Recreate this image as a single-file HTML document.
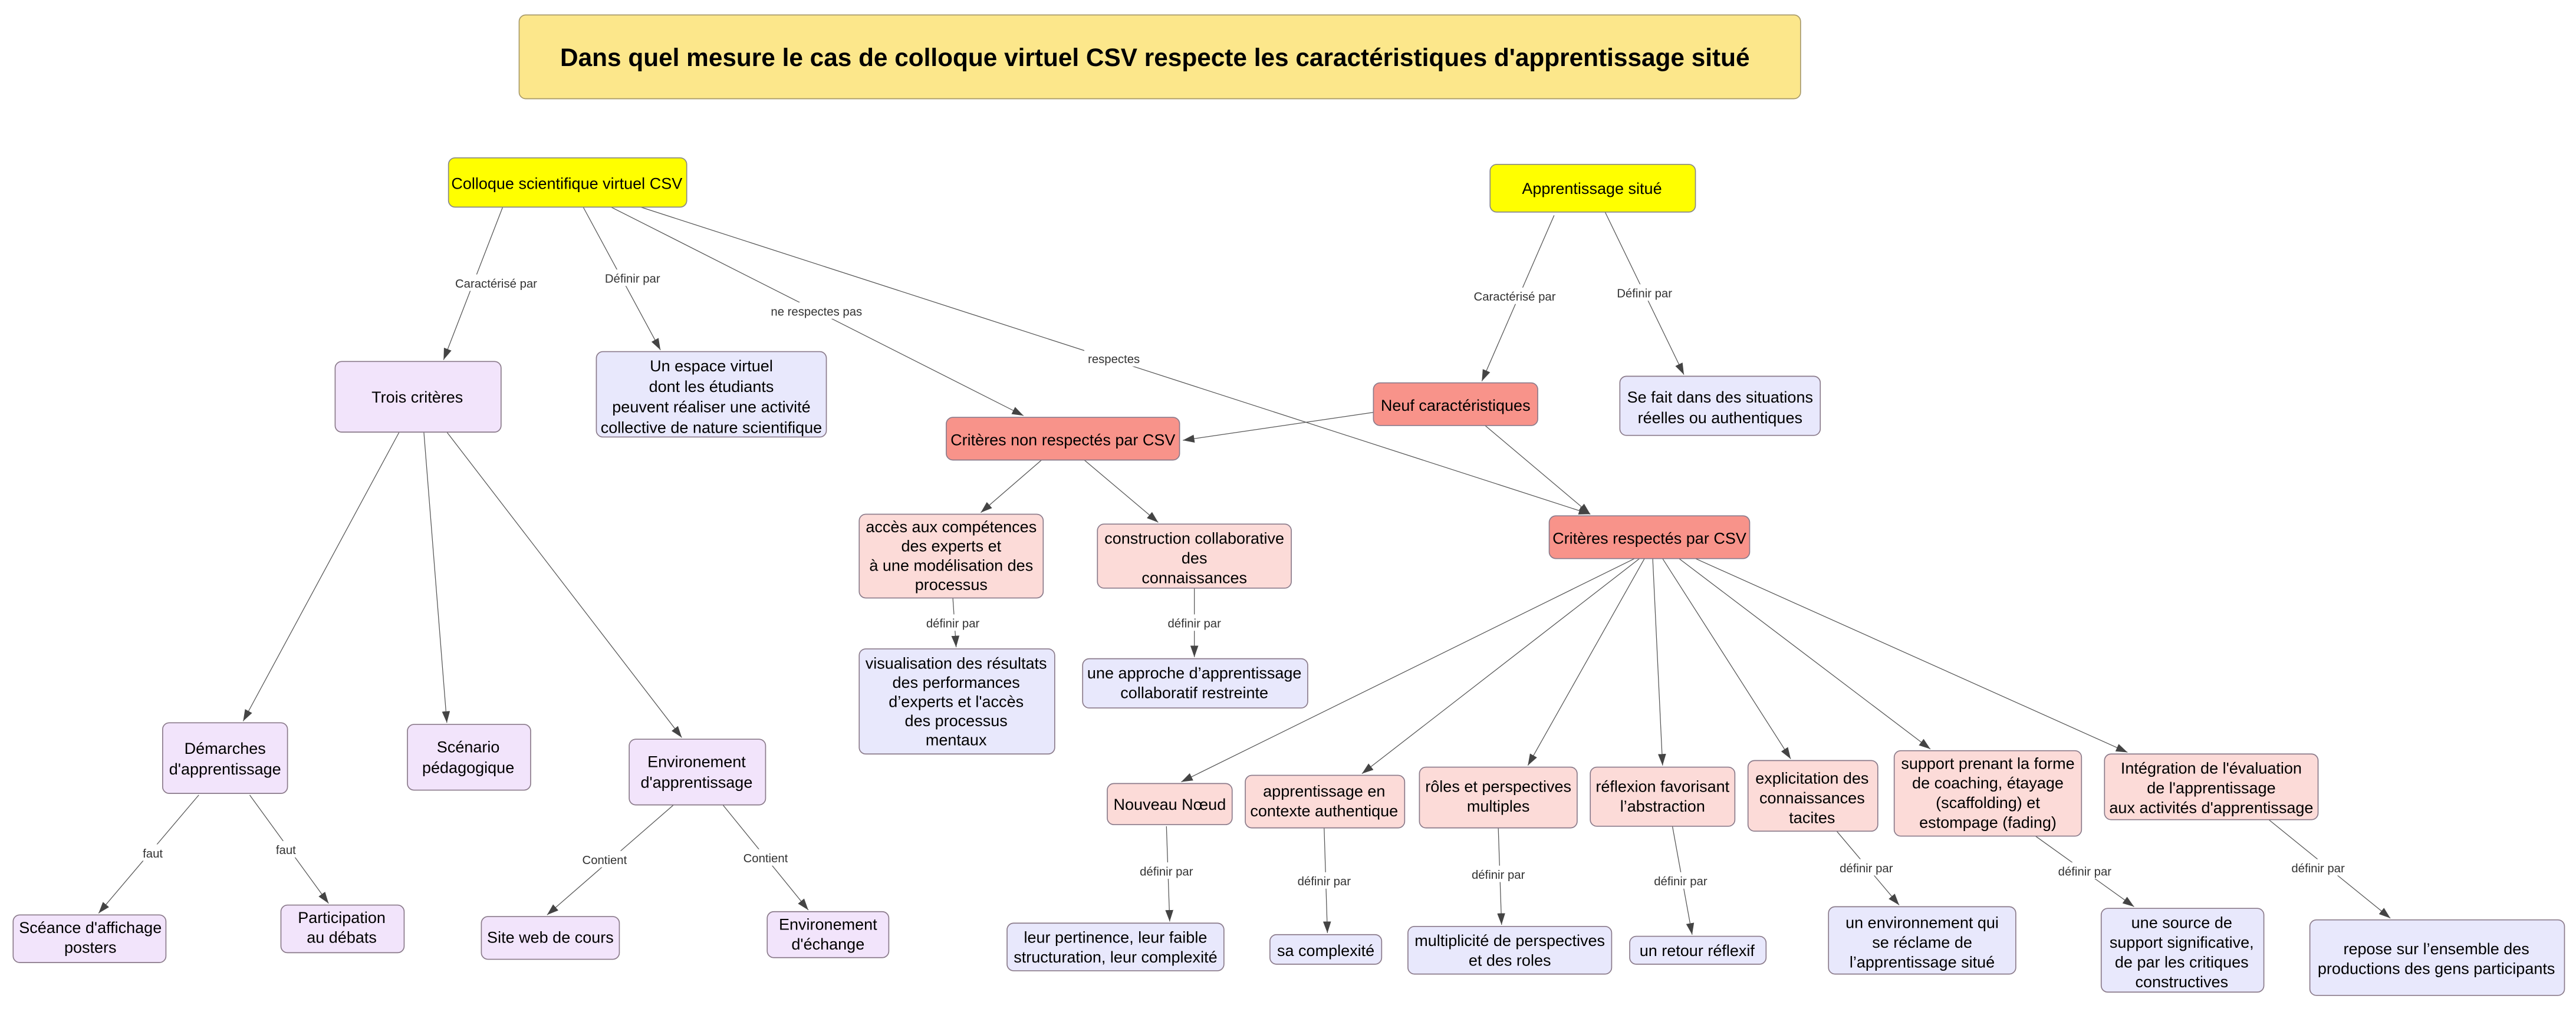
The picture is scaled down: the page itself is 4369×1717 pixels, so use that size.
<!DOCTYPE html>
<html><head><meta charset="utf-8"><style>html,body{margin:0;padding:0;background:#fff}svg{display:block}</style></head>
<body>
<svg xmlns="http://www.w3.org/2000/svg" width="4369" height="1717" viewBox="0 0 1568 616" font-family="'Liberation Sans', sans-serif">
<defs>
<marker id="a" viewBox="0 0 10 10" refX="10" refY="5" markerWidth="7" markerHeight="7" markerUnits="userSpaceOnUse" orient="auto"><path d="M0,1.5 L10,5 L0,8.5 z" fill="#444"/></marker>
</defs>
<rect width="1568" height="616" fill="#fff"/>
<g stroke="#555" stroke-width="0.45" fill="none" marker-end="url(#a)">
<line x1="306" y1="126" x2="270" y2="219"/>
<line x1="355" y1="126" x2="402" y2="213"/>
<line x1="372" y1="126" x2="623" y2="253"/>
<line x1="390" y1="126" x2="968" y2="313"/>
<line x1="946" y1="131" x2="902" y2="232"/>
<line x1="977" y1="129" x2="1025" y2="228"/>
<line x1="836" y1="251" x2="720" y2="268"/>
<line x1="904" y1="259" x2="968" y2="313"/>
<line x1="634" y1="280" x2="597" y2="312"/>
<line x1="660" y1="280" x2="705" y2="318"/>
<line x1="580" y1="364" x2="582" y2="394"/>
<line x1="727" y1="358" x2="727" y2="400"/>
<line x1="243" y1="263" x2="148" y2="439"/>
<line x1="258" y1="263" x2="272" y2="440"/>
<line x1="272" y1="263" x2="415" y2="449"/>
<line x1="121" y1="484" x2="60" y2="556"/>
<line x1="152" y1="484" x2="200" y2="550"/>
<line x1="410" y1="490" x2="333" y2="557"/>
<line x1="440" y1="490" x2="492" y2="554"/>
<line x1="995" y1="340" x2="719" y2="476"/>
<line x1="998" y1="340" x2="829" y2="471"/>
<line x1="1001" y1="340" x2="930" y2="466"/>
<line x1="1006" y1="340" x2="1012" y2="466"/>
<line x1="1012" y1="340" x2="1090" y2="462"/>
<line x1="1022" y1="340" x2="1175" y2="456"/>
<line x1="1032" y1="340" x2="1295" y2="458"/>
<line x1="710" y1="503" x2="712" y2="561"/>
<line x1="806" y1="504" x2="808" y2="568"/>
<line x1="912" y1="504" x2="914" y2="563"/>
<line x1="1018" y1="503" x2="1030" y2="569"/>
<line x1="1118" y1="506" x2="1156" y2="551"/>
<line x1="1239" y1="509" x2="1299" y2="552"/>
<line x1="1381" y1="499" x2="1455" y2="559"/>
</g>
<g font-size="7.3" fill="#333" text-anchor="middle">
<g fill="#fff" stroke="none">
<rect x="275" y="167" width="54" height="10"/><rect x="366" y="164" width="38" height="10"/>
<rect x="467" y="184" width="60" height="10"/><rect x="660" y="213" width="36" height="10"/>
<rect x="895" y="175" width="54" height="10"/><rect x="983" y="173" width="38" height="10"/>
<rect x="561" y="374" width="38" height="10"/><rect x="708" y="374" width="38" height="10"/>
<rect x="85" y="514" width="16" height="10"/><rect x="166" y="512" width="16" height="10"/>
<rect x="352" y="518" width="32" height="10"/><rect x="450" y="517" width="32" height="10"/>
<rect x="691" y="525" width="38" height="10"/><rect x="787" y="531" width="38" height="10"/>
<rect x="893" y="527" width="38" height="10"/><rect x="1004" y="531" width="38" height="10"/>
<rect x="1117" y="523" width="38" height="10"/><rect x="1250" y="525" width="38" height="10"/>
<rect x="1392" y="523" width="38" height="10"/>
</g>
<text x="302" y="175">Caractérisé par</text><text x="385" y="172">Définir par</text>
<text x="497" y="192">ne respectes pas</text><text x="678" y="221">respectes</text>
<text x="922" y="183">Caractérisé par</text><text x="1001" y="181">Définir par</text>
<text x="580" y="382">définir par</text><text x="727" y="382">définir par</text>
<text x="93" y="522">faut</text><text x="174" y="520">faut</text>
<text x="368" y="526">Contient</text><text x="466" y="525">Contient</text>
<text x="710" y="533">définir par</text><text x="806" y="539">définir par</text>
<text x="912" y="535">définir par</text><text x="1023" y="539">définir par</text>
<text x="1136" y="531">définir par</text><text x="1269" y="533">définir par</text>
<text x="1411" y="531">définir par</text>
</g>
<g stroke="#8a7a8a" stroke-width="0.6">
<rect x="316" y="9" width="780" height="51" rx="4" fill="#fce78b" stroke="#a89a6a"/>
<rect x="273" y="96" width="145" height="30" rx="4" fill="#ffff00" stroke="#888"/>
<rect x="907" y="100" width="125" height="29" rx="4" fill="#ffff00" stroke="#888"/>
<g fill="#f2e4fb">
<rect x="204" y="220" width="101" height="43" rx="4"/>
<rect x="99" y="440" width="76" height="43" rx="4"/>
<rect x="248" y="441" width="75" height="40" rx="4"/>
<rect x="383" y="450" width="83" height="40" rx="4"/>
<rect x="8" y="557" width="93" height="29" rx="4"/>
<rect x="171" y="551" width="75" height="29" rx="4"/>
<rect x="293" y="558" width="84" height="26" rx="4"/>
<rect x="467" y="555" width="74" height="28" rx="4"/>
</g>
<g fill="#e8e8fc">
<rect x="363" y="214" width="140" height="52" rx="4"/>
<rect x="986" y="229" width="122" height="36" rx="4"/>
<rect x="523" y="395" width="119" height="64" rx="4"/>
<rect x="659" y="401" width="137" height="30" rx="4"/>
<rect x="613" y="562" width="132" height="29" rx="4"/>
<rect x="773" y="569" width="68" height="18" rx="4"/>
<rect x="857" y="564" width="124" height="29" rx="4"/>
<rect x="992" y="570" width="83" height="17" rx="4"/>
<rect x="1113" y="552" width="114" height="41" rx="4"/>
<rect x="1279" y="553" width="99" height="51" rx="4"/>
<rect x="1406" y="560" width="155" height="46" rx="4"/>
</g>
<g fill="#f8938a">
<rect x="576" y="254" width="142" height="26" rx="4"/>
<rect x="836" y="233" width="100" height="26" rx="4"/>
<rect x="943" y="314" width="122" height="26" rx="4"/>
</g>
<g fill="#fcdbd8">
<rect x="523" y="313" width="112" height="51" rx="4"/>
<rect x="668" y="319" width="118" height="39" rx="4"/>
<rect x="674" y="477" width="76" height="25" rx="4"/>
<rect x="758" y="472" width="97" height="32" rx="4"/>
<rect x="864" y="467" width="96" height="37" rx="4"/>
<rect x="968" y="467" width="88" height="36" rx="4"/>
<rect x="1064" y="463" width="79" height="43" rx="4"/>
<rect x="1153" y="457" width="114" height="52" rx="4"/>
<rect x="1281" y="459" width="130" height="40" rx="4"/>
</g>
</g>
<text x="703" y="40" font-size="15.2" font-weight="bold" text-anchor="middle" fill="#000">Dans quel mesure le cas de colloque virtuel CSV respecte les caractéristiques d'apprentissage situé</text>
<g font-size="9.7" text-anchor="middle" fill="#000">
<text x="345" y="115">Colloque scientifique virtuel CSV</text>
<text x="969" y="118">Apprentissage situé</text>
<text x="254" y="245">Trois critères</text>
<text x="433" y="226"><tspan x="433">Un espace virtuel</tspan><tspan x="433" dy="12.5">dont les étudiants</tspan><tspan x="433" dy="12.5">peuvent réaliser une activité</tspan><tspan x="433" dy="12.5">collective de nature scientifique</tspan></text>
<text x="647" y="271">Critères non respectés par CSV</text>
<text x="886" y="250">Neuf caractéristiques</text>
<text x="1047" y="245"><tspan x="1047">Se fait dans des situations</tspan><tspan x="1047" dy="12.5">réelles ou authentiques</tspan></text>
<text x="1004" y="331">Critères respectés par CSV</text>
<text x="579" y="324"><tspan x="579">accès aux compétences</tspan><tspan x="579" dy="11.7">des experts et</tspan><tspan x="579" dy="11.7">à une modélisation des</tspan><tspan x="579" dy="11.7">processus</tspan></text>
<text x="727" y="331"><tspan x="727">construction collaborative</tspan><tspan x="727" dy="12">des</tspan><tspan x="727" dy="12">connaissances</tspan></text>
<text x="582" y="407"><tspan x="582">visualisation des résultats</tspan><tspan x="582" dy="11.7">des performances</tspan><tspan x="582" dy="11.7">d’experts et l'accès</tspan><tspan x="582" dy="11.7">des processus</tspan><tspan x="582" dy="11.7">mentaux</tspan></text>
<text x="727" y="413"><tspan x="727">une approche d’apprentissage</tspan><tspan x="727" dy="12">collaboratif  restreinte</tspan></text>
<text x="137" y="459"><tspan x="137">Démarches</tspan><tspan x="137" dy="12.5">d'apprentissage</tspan></text>
<text x="285" y="458"><tspan x="285">Scénario</tspan><tspan x="285" dy="12.5">pédagogique</tspan></text>
<text x="424" y="467"><tspan x="424">Environement</tspan><tspan x="424" dy="12.5">d'apprentissage</tspan></text>
<text x="55" y="568"><tspan x="55">Scéance d'affichage</tspan><tspan x="55" dy="12">posters</tspan></text>
<text x="208" y="562"><tspan x="208">Participation</tspan><tspan x="208" dy="12">au débats</tspan></text>
<text x="335" y="574">Site web de cours</text>
<text x="504" y="566"><tspan x="504">Environement</tspan><tspan x="504" dy="12">d'échange</tspan></text>
<text x="712" y="493">Nouveau Nœud</text>
<text x="806" y="485"><tspan x="806">apprentissage en</tspan><tspan x="806" dy="12">contexte authentique</tspan></text>
<text x="912" y="482"><tspan x="912">rôles et perspectives</tspan><tspan x="912" dy="12">multiples</tspan></text>
<text x="1012" y="482"><tspan x="1012">réflexion favorisant</tspan><tspan x="1012" dy="12">l’abstraction</tspan></text>
<text x="1103" y="477"><tspan x="1103">explicitation des</tspan><tspan x="1103" dy="12">connaissances</tspan><tspan x="1103" dy="12">tacites</tspan></text>
<text x="1210" y="468"><tspan x="1210">support prenant la forme</tspan><tspan x="1210" dy="12">de coaching, étayage</tspan><tspan x="1210" dy="12">(scaffolding) et</tspan><tspan x="1210" dy="12">estompage (fading)</tspan></text>
<text x="1346" y="471"><tspan x="1346">Intégration de l'évaluation</tspan><tspan x="1346" dy="12">de l'apprentissage</tspan><tspan x="1346" dy="12">aux activités d'apprentissage</tspan></text>
<text x="679" y="574"><tspan x="679">leur pertinence, leur faible</tspan><tspan x="679" dy="12">structuration, leur complexité</tspan></text>
<text x="807" y="582">sa complexité</text>
<text x="919" y="576"><tspan x="919">multiplicité de perspectives</tspan><tspan x="919" dy="12">et des roles</tspan></text>
<text x="1033" y="582">un retour réflexif</text>
<text x="1170" y="565"><tspan x="1170">un environnement qui</tspan><tspan x="1170" dy="12">se réclame de</tspan><tspan x="1170" dy="12">l’apprentissage situé</tspan></text>
<text x="1328" y="565"><tspan x="1328">une source de</tspan><tspan x="1328" dy="12">support significative,</tspan><tspan x="1328" dy="12">de par les critiques</tspan><tspan x="1328" dy="12">constructives</tspan></text>
<text x="1483" y="581"><tspan x="1483">repose sur l’ensemble des</tspan><tspan x="1483" dy="12">productions des gens participants</tspan></text>
</g>
</svg>
</body></html>
